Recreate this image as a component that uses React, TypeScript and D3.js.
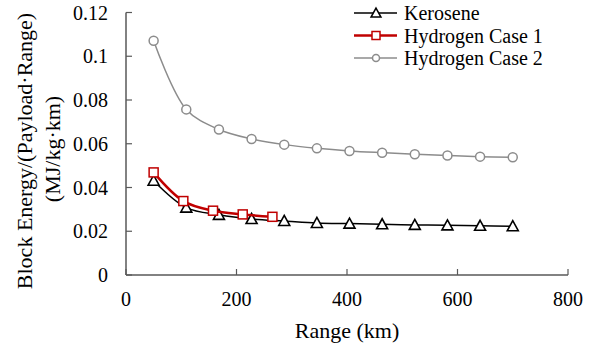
import React from "react";
import * as d3 from "d3";

const rangeKero = [50, 109.1, 168.2, 227.3, 286.4, 345.5, 404.5, 463.6, 522.7, 581.8, 640.9, 700];
const kerosene = [0.0431, 0.0308, 0.0275, 0.0256, 0.0247, 0.0238, 0.0235, 0.0232, 0.0229, 0.0227, 0.0225, 0.0223];
const rangeH1 = [50, 103.75, 157.5, 211.25, 265];
const hydrogen1 = [0.0469, 0.0338, 0.0294, 0.0277, 0.0266];
const rangeH2 = [50, 109.1, 168.2, 227.3, 286.4, 345.5, 404.5, 463.6, 522.7, 581.8, 640.9, 700];
const hydrogen2 = [0.1071, 0.0757, 0.0665, 0.0622, 0.0596, 0.0579, 0.0567, 0.0559, 0.0552, 0.0546, 0.0541, 0.0538];
const xTicks = [0, 200, 400, 600, 800];
const yTicks = [0, 0.02, 0.04, 0.06, 0.08, 0.1, 0.12];
const yTickLabels = ["0", "0.02", "0.04", "0.06", "0.08", "0.1", "0.12"];
const seriesNames = ["Kerosene", "Hydrogen Case 1", "Hydrogen Case 2"];

const FONT = "Liberation Serif";
const AXIS = "#595959";

type Pt = [number, number];

export default function App() {
  const x = d3.scaleLinear().domain([0, 800]).range([126, 568]);
  const y = d3.scaleLinear().domain([0, 0.12]).range([275, 12.5]);
  const line = d3
    .line<Pt>()
    .x((d) => x(d[0]))
    .y((d) => y(d[1]))
    .curve(d3.curveCatmullRom.alpha(0.5));

  const kPts: Pt[] = rangeKero.map((r, i) => [r, kerosene[i]]);
  const h1Pts: Pt[] = rangeH1.map((r, i) => [r, hydrogen1[i]]);
  const h2Pts: Pt[] = rangeH2.map((r, i) => [r, hydrogen2[i]]);

  const tri = (cx: number, cy: number, s: number) =>
    `M${cx},${cy - s * 0.55}L${cx + s * 0.55},${cy + s * 0.45}L${cx - s * 0.55},${cy + s * 0.45}Z`;

  const legendRows = [13, 35.5, 58];

  const T = (props: any) => (
    <text fontFamily={FONT} fill="#000" style={{ fontFamily: FONT }} {...props} />
  );

  return (
    <svg
      width={596}
      height={348}
      fontFamily={FONT}
      style={{ position: "absolute", left: 0, top: 0, background: "#fff", fontFamily: FONT }}
    >
      <style>{`text { font-family: "Liberation Serif", "Times New Roman", serif; }`}</style>
      <rect width={596} height={348} fill="#fff" />
      {/* axes */}
      <line x1={x(0)} x2={x(800)} y1={y(0)} y2={y(0)} stroke={AXIS} strokeWidth={1.5} />
      <line x1={x(0)} x2={x(0)} y1={y(0)} y2={y(0.12)} stroke={AXIS} strokeWidth={1.5} />
      {xTicks.map((t) => (
        <g key={"xt" + t}>
          <line x1={x(t)} x2={x(t)} y1={y(0)} y2={y(0) - 6} stroke={AXIS} strokeWidth={1.2} />
          <T x={x(t)} y={306} textAnchor="middle" fontSize={20}>
            {t}
          </T>
        </g>
      ))}
      {yTicks.map((t, i) => (
        <g key={"yt" + t}>
          <line x1={x(0)} x2={x(0) + 6} y1={y(t)} y2={y(t)} stroke={AXIS} strokeWidth={1.2} />
          <T x={108} y={y(t)} dy="0.35em" textAnchor="end" fontSize={20}>
            {yTickLabels[i]}
          </T>
        </g>
      ))}
      <T x={347} y={338} textAnchor="middle" fontSize={22}>
        Range (km)
      </T>
      <T transform="translate(32,151) rotate(-90)" textAnchor="middle" fontSize={22}>
        Block Energy/(Payload·Range)
      </T>
      <T transform="translate(60,149) rotate(-90)" textAnchor="middle" fontSize={22}>
        (MJ/kg·km)
      </T>

      {/* Kerosene */}
      <path d={line(kPts) || ""} fill="none" stroke="#000" strokeWidth={1.5} />
      {kPts.map((p, i) => (
        <path key={"k" + i} d={tri(x(p[0]), y(p[1]), 10)} fill="#fff" stroke="#000" strokeWidth={1.6} />
      ))}
      {/* Hydrogen Case 1 */}
      <path d={line(h1Pts) || ""} fill="none" stroke="#c00000" strokeWidth={2.5} />
      {h1Pts.map((p, i) => (
        <rect key={"h1" + i} x={x(p[0]) - 4.5} y={y(p[1]) - 4.5} width={9} height={9} fill="#fff" stroke="#c00000" strokeWidth={1.5} />
      ))}
      {/* Hydrogen Case 2 */}
      <path d={line(h2Pts) || ""} fill="none" stroke="#8c8c8c" strokeWidth={1.5} />
      {h2Pts.map((p, i) => (
        <circle key={"h2" + i} cx={x(p[0])} cy={y(p[1])} r={4.5} fill="#fff" stroke="#8c8c8c" strokeWidth={1.5} />
      ))}

      {/* legend */}
      <g>
        <line x1={354} x2={397} y1={legendRows[0]} y2={legendRows[0]} stroke="#000" strokeWidth={1.5} />
        <path d={tri(376, legendRows[0], 9)} fill="#fff" stroke="#000" strokeWidth={1.5} />
        <line x1={354} x2={397} y1={legendRows[1]} y2={legendRows[1]} stroke="#c00000" strokeWidth={2.5} />
        <rect x={372} y={legendRows[1] - 4} width={8} height={8} fill="#fff" stroke="#c00000" strokeWidth={1.5} />
        <line x1={354} x2={397} y1={legendRows[2]} y2={legendRows[2]} stroke="#8c8c8c" strokeWidth={1.5} />
        <circle cx={376} cy={legendRows[2]} r={3.5} fill="#fff" stroke="#8c8c8c" strokeWidth={1.5} />
        {seriesNames.map((n, i) => (
          <T key={n} x={404} y={legendRows[i]} dy="0.35em" fontSize={20}>
            {n}
          </T>
        ))}
      </g>
    </svg>
  );
}
